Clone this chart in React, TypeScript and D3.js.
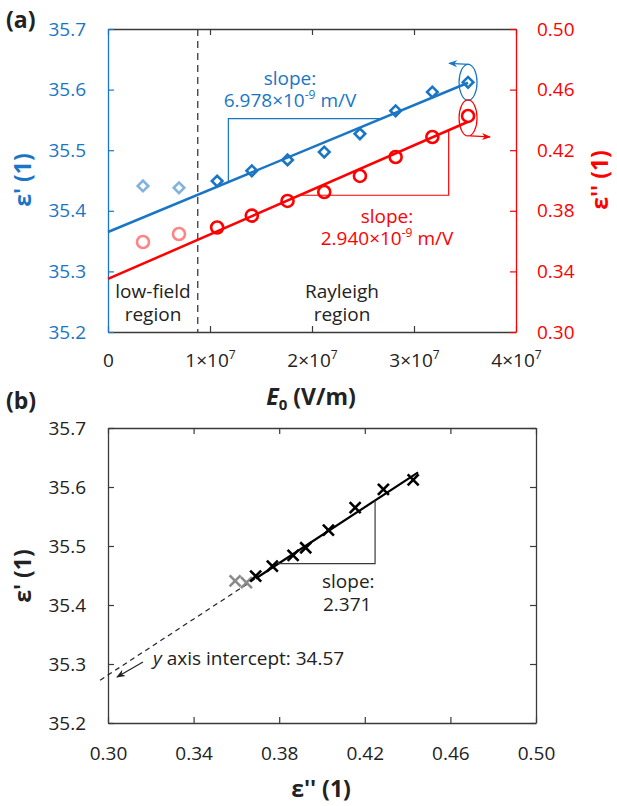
import React, { useEffect, useRef } from "react";
import * as d3 from "d3";

// amplitude of the field (V/m) and measured permittivities
const fieldE = [3.43e6, 6.96e6, 1.07e7, 1.41e7, 1.76e7, 2.12e7, 2.47e7, 2.82e7, 3.18e7, 3.53e7];
const epsReal = [35.441, 35.438, 35.449, 35.466, 35.484, 35.497, 35.527, 35.565, 35.596, 35.612];
const epsImag = [0.3594, 0.3647, 0.369, 0.3768, 0.3865, 0.3924, 0.403, 0.4155, 0.4287, 0.4426];
const lowFieldCount = 2; // first points belong to the low-field region

// Rayleigh fits
const realIntercept = 35.365;
const realSlope = 6.978e-9;
const imagIntercept = 0.335;
const imagSlope = 2.94e-9;
const fitRange = [0, 3.53e7];
const regionBoundary = 8.8e6;

// eps' vs eps'' fit
const bIntercept = 34.57;
const bSlope = 2.371;
const bDashedRange = [0.2963, 0.369];
const bSolidRange = [0.369, 0.4449];

// slope triangles
const realTri = [1.18e7, 2.68e7];
const imagTri = [1.88e7, 3.34e7];
const bTri = [0.3796, 0.4248];

// ticks
const aXTicks = [0, 1e7, 2e7, 3e7, 4e7];
const aYTicks = [35.2, 35.3, 35.4, 35.5, 35.6, 35.7];
const aY2Ticks = [0.3, 0.34, 0.38, 0.42, 0.46, 0.5];
const bXTicks = [0.3, 0.34, 0.38, 0.42, 0.46, 0.5];
const bYTicks = [35.2, 35.3, 35.4, 35.5, 35.6, 35.7];

const BLUE = "#1a76c4";
const BLUE_LIGHT = "#80b3de";
const RED = "#ff0000";
const RED_LIGHT = "#ff8585";
const DARK = "#222222";
const AXIS = "#3a3a3a";
const FONT = "'Open Sans', sans-serif";
const FS = 19; // tick / annotation size
const TS = 23; // titles

const App = () => {
  const ref = useRef<SVGSVGElement>(null);

  useEffect(() => {
    const svg = d3.select(ref.current);
    svg.selectAll("*").remove();
    svg.attr("font-family", FONT);

    const defs = svg.append("defs");
    const marker = (id: string, color: string, size: number) =>
      defs
        .append("marker")
        .attr("id", id)
        .attr("viewBox", "0 0 10 10")
        .attr("refX", 9)
        .attr("refY", 5)
        .attr("markerWidth", size)
        .attr("markerHeight", size)
        .attr("markerUnits", "userSpaceOnUse")
        .attr("orient", "auto")
        .append("path")
        .attr("d", "M0,1 L10,5 L0,9 L3,5 Z")
        .attr("fill", color);
    marker("arrBlue", BLUE, 9);
    marker("arrRed", RED, 9);
    marker("arrDark", DARK, 9);

    // ---------- panel (a) ----------
    const xA = d3.scaleLinear().domain([0, 4e7]).range([108, 516]);
    const yA = d3.scaleLinear().domain([35.2, 35.7]).range([332, 29]);
    const yA2 = d3.scaleLinear().domain([0.3, 0.5]).range([332, 29]);

    const gA = svg.append("g");

    const styleAxis = (g: any, color: string, labelColor: string) => {
      g.select(".domain").attr("stroke", color).attr("stroke-width", 1.3);
      g.selectAll(".tick line").attr("stroke", color).attr("stroke-width", 1.2);
      g.selectAll(".tick text")
        .attr("fill", labelColor)
        .attr("font-size", FS)
        .attr("font-family", FONT);
    };

    // top & bottom
    const aTop = gA
      .append("g")
      .attr("transform", "translate(0,29)")
      .call(d3.axisTop(xA).tickValues(aXTicks).tickSizeInner(-6).tickSizeOuter(0).tickFormat(() => ""));
    styleAxis(aTop, AXIS, DARK);

    const aBottom = gA
      .append("g")
      .attr("transform", "translate(0,332)")
      .call(d3.axisBottom(xA).tickValues(aXTicks).tickSizeInner(-6).tickSizeOuter(0).tickPadding(22));
    styleAxis(aBottom, AXIS, DARK);
    aBottom.selectAll<SVGTextElement, number>(".tick text").each(function (d) {
      const t = d3.select(this);
      t.text("");
      if (d === 0) {
        t.text("0");
        return;
      }
      t.append("tspan").text(`${d / 1e7}×10`);
      t.append("tspan").attr("dy", -8).attr("font-size", 12).text("7");
    });

    const aLeft = gA
      .append("g")
      .attr("transform", "translate(108,0)")
      .call(d3.axisLeft(yA).tickValues(aYTicks).tickSizeInner(-6).tickSizeOuter(0).tickPadding(22).tickFormat(d3.format(".1f")));
    styleAxis(aLeft, BLUE, BLUE);

    const aRight = gA
      .append("g")
      .attr("transform", "translate(516,0)")
      .call(d3.axisRight(yA2).tickValues(aY2Ticks).tickSizeInner(-6).tickSizeOuter(0).tickPadding(21).tickFormat(d3.format(".2f")));
    styleAxis(aRight, RED, RED);

    // region boundary
    gA.append("line")
      .attr("x1", xA(regionBoundary))
      .attr("x2", xA(regionBoundary))
      .attr("y1", yA(35.7))
      .attr("y2", yA(35.2))
      .attr("stroke", AXIS)
      .attr("stroke-width", 1.3)
      .attr("stroke-dasharray", "7,5");

    // fit lines
    const realLine = d3.line<number>().x((e) => xA(e)).y((e) => yA(realIntercept + realSlope * e));
    const imagLine = d3.line<number>().x((e) => xA(e)).y((e) => yA2(imagIntercept + imagSlope * e));
    gA.append("path").attr("d", realLine(fitRange)).attr("stroke", BLUE).attr("stroke-width", 2.5).attr("fill", "none");
    gA.append("path").attr("d", imagLine(fitRange)).attr("stroke", RED).attr("stroke-width", 2.5).attr("fill", "none");

    // slope triangles
    const rv = (e: number) => yA(realIntercept + realSlope * e);
    const iv = (e: number) => yA2(imagIntercept + imagSlope * e);
    gA.append("path")
      .attr("d", `M${xA(realTri[0])},${rv(realTri[0])} V${rv(realTri[1])} H${xA(realTri[1])}`)
      .attr("stroke", BLUE)
      .attr("stroke-width", 1.2)
      .attr("fill", "none");
    gA.append("path")
      .attr("d", `M${xA(imagTri[0])},${iv(imagTri[0])} H${xA(imagTri[1])} V${iv(imagTri[1])}`)
      .attr("stroke", RED)
      .attr("stroke-width", 1.2)
      .attr("fill", "none");

    // markers
    const diamond = d3.symbol().type(d3.symbolSquare).size(56);
    gA.selectAll("path.dia")
      .data(fieldE)
      .enter()
      .append("path")
      .attr("class", "dia")
      .attr("d", diamond)
      .attr("transform", (e, i) => `translate(${xA(e)},${yA(epsReal[i])}) rotate(45)`)
      .attr("fill", "none")
      .attr("stroke", (e, i) => (i < lowFieldCount ? BLUE_LIGHT : BLUE))
      .attr("stroke-width", 2.6);

    gA.selectAll("circle.ci")
      .data(fieldE)
      .enter()
      .append("circle")
      .attr("class", "ci")
      .attr("cx", (e) => xA(e))
      .attr("cy", (e, i) => yA2(epsImag[i]))
      .attr("r", 6)
      .attr("fill", "none")
      .attr("stroke", (e, i) => (i < lowFieldCount ? RED_LIGHT : RED))
      .attr("stroke-width", 2.6);

    // ellipses with arrows pointing to the axes
    const last = fieldE.length - 1;
    const bx = xA(fieldE[last]);
    const by = yA(epsReal[last]);
    gA.append("ellipse").attr("cx", bx).attr("cy", by).attr("rx", 9).attr("ry", 18).attr("fill", "none").attr("stroke", BLUE).attr("stroke-width", 1.2);
    gA.append("path")
      .attr("d", `M${bx + 1},${by - 18} L${bx - 19},${by - 19}`)
      .attr("stroke", BLUE)
      .attr("stroke-width", 1.2)
      .attr("marker-end", "url(#arrBlue)");
    const rx = xA(fieldE[last]);
    const ry = yA2(epsImag[last]) + 2;
    gA.append("ellipse").attr("cx", rx).attr("cy", ry).attr("rx", 9).attr("ry", 18).attr("fill", "none").attr("stroke", RED).attr("stroke-width", 1.2);
    gA.append("path")
      .attr("d", `M${rx + 2},${ry + 18} L${rx + 22},${ry + 19}`)
      .attr("stroke", RED)
      .attr("stroke-width", 1.2)
      .attr("marker-end", "url(#arrRed)");

    // annotations (multi-line texts kept in one <text>)
    const slopeNote = (x: number, y: number, color: string, value: string) => {
      const t = gA.append("text").attr("fill", color).attr("font-size", FS).attr("text-anchor", "middle");
      t.append("tspan").attr("x", x).attr("y", y).text("slope:");
      const l2 = t.append("tspan").attr("x", x).attr("y", y + 22);
      l2.append("tspan").text(`${value}×10`);
      l2.append("tspan").attr("dy", -8).attr("font-size", 12).text("-9");
      l2.append("tspan").attr("dy", 8).text(" m/V");
    };
    slopeNote(290, 85, BLUE, "6.978");
    slopeNote(387, 223, RED, "2.940");

    const regionText = (x: number, lines: string[]) => {
      const t = gA.append("text").attr("text-anchor", "middle").attr("font-size", FS).attr("fill", DARK);
      lines.forEach((s, i) => t.append("tspan").attr("x", x).attr("y", 298 + i * 23).text(s));
    };
    regionText(153, ["low-field", "region"]);
    regionText(342, ["Rayleigh", "region"]);

    // axis titles
    const xt = gA.append("text").attr("x", 311).attr("y", 405).attr("text-anchor", "middle").attr("font-size", TS).attr("font-weight", "bold").attr("fill", DARK);
    xt.append("tspan").attr("font-style", "italic").text("E");
    xt.append("tspan").attr("dy", 5).attr("font-size", 15).text("0");
    xt.append("tspan").attr("dy", -5).text(" (V/m)");

    gA.append("text")
      .attr("transform", `translate(31,180) rotate(-90)`)
      .attr("text-anchor", "middle")
      .attr("font-size", TS)
      .attr("font-weight", "bold")
      .attr("fill", BLUE)
      .text("ε' (1)");
    gA.append("text")
      .attr("transform", `translate(608,180) rotate(-90)`)
      .attr("text-anchor", "middle")
      .attr("font-size", TS)
      .attr("font-weight", "bold")
      .attr("fill", RED)
      .text("ε'' (1)");

    svg.append("text").attr("x", 6).attr("y", 28).attr("font-size", TS).attr("font-weight", "bold").attr("fill", DARK).text("(a)");
    svg.append("text").attr("x", 6).attr("y", 409).attr("font-size", TS).attr("font-weight", "bold").attr("fill", DARK).text("(b)");

    // ---------- panel (b) ----------
    const xB = d3.scaleLinear().domain([0.3, 0.5]).range([108, 536]);
    const yB = d3.scaleLinear().domain([35.2, 35.7]).range([723, 428]);
    const gB = svg.append("g");

    const bTop = gB.append("g").attr("transform", "translate(0,428)")
      .call(d3.axisTop(xB).tickValues(bXTicks).tickSizeInner(-6).tickSizeOuter(0).tickFormat(() => ""));
    styleAxis(bTop, AXIS, DARK);
    const bBottom = gB.append("g").attr("transform", "translate(0,723)")
      .call(d3.axisBottom(xB).tickValues(bXTicks).tickSizeInner(-6).tickSizeOuter(0).tickPadding(24).tickFormat(d3.format(".2f")));
    styleAxis(bBottom, AXIS, DARK);
    const bLeft = gB.append("g").attr("transform", "translate(108,0)")
      .call(d3.axisLeft(yB).tickValues(bYTicks).tickSizeInner(-6).tickSizeOuter(0).tickPadding(22).tickFormat(d3.format(".1f")));
    styleAxis(bLeft, AXIS, DARK);
    const bRight = gB.append("g").attr("transform", "translate(536,0)")
      .call(d3.axisRight(yB).tickValues(bYTicks).tickSizeInner(-6).tickSizeOuter(0).tickFormat(() => ""));
    styleAxis(bRight, AXIS, DARK);

    const bLine = d3.line<number>().x((v) => xB(v)).y((v) => yB(bIntercept + bSlope * v));
    gB.append("path").attr("d", bLine(bDashedRange)).attr("stroke", DARK).attr("stroke-width", 1.2).attr("stroke-dasharray", "5,4").attr("fill", "none");
    gB.append("path").attr("d", bLine(bSolidRange)).attr("stroke", "#000").attr("stroke-width", 2.2).attr("fill", "none");

    const bv = (v: number) => yB(bIntercept + bSlope * v);
    gB.append("path")
      .attr("d", `M${xB(bTri[0])},${bv(bTri[0])} H${xB(bTri[1])} V${bv(bTri[1])}`)
      .attr("stroke", AXIS)
      .attr("stroke-width", 1.2)
      .attr("fill", "none");

    gB.selectAll("path.cross")
      .data(epsImag)
      .enter()
      .append("path")
      .attr("class", "cross")
      .attr("d", "M-5.5,-5.5 L5.5,5.5 M-5.5,5.5 L5.5,-5.5")
      .attr("transform", (v, i) => `translate(${xB(v)},${yB(epsReal[i])})`)
      .attr("stroke", (v, i) => (i < lowFieldCount ? "#8a8a8a" : "#000"))
      .attr("stroke-width", 2.6)
      .attr("fill", "none");

    const bs = gB.append("text").attr("font-size", FS).attr("fill", DARK);
    bs.append("tspan").attr("x", 322).attr("y", 588).text("slope:");
    bs.append("tspan").attr("x", 323).attr("y", 611).text("2.371");

    const it = gB.append("text").attr("x", 153).attr("y", 665).attr("font-size", FS).attr("fill", DARK);
    it.append("tspan").attr("font-style", "italic").text("y");
    it.append("tspan").text(" axis intercept: 34.57");
    gB.append("path")
      .attr("d", "M143,662 L117,677")
      .attr("stroke", DARK)
      .attr("stroke-width", 1.2)
      .attr("marker-end", "url(#arrDark)");

    gB.append("text")
      .attr("x", 321)
      .attr("y", 797)
      .attr("text-anchor", "middle")
      .attr("font-size", TS)
      .attr("font-weight", "bold")
      .attr("fill", DARK)
      .text("ε'' (1)");
    gB.append("text")
      .attr("transform", `translate(31,576) rotate(-90)`)
      .attr("text-anchor", "middle")
      .attr("font-size", TS)
      .attr("font-weight", "bold")
      .attr("fill", DARK)
      .text("ε' (1)");
  }, []);

  return (
    <svg
      ref={ref}
      width={617}
      height={806}
      style={{ position: "absolute", left: 0, top: 0, background: "#fff" }}
    />
  );
};

export default App;
